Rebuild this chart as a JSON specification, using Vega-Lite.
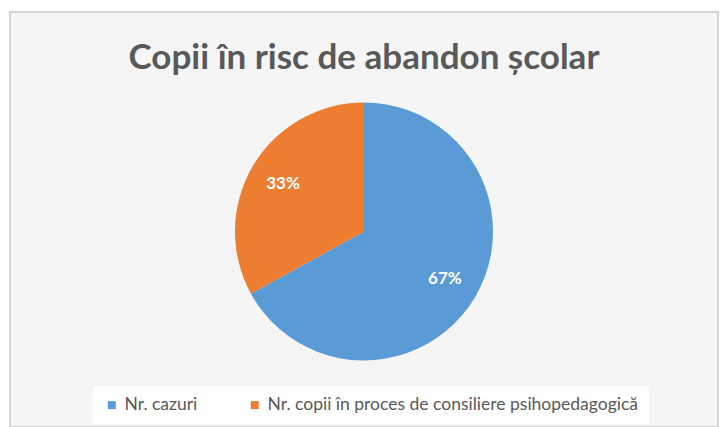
{
  "$schema": "https://vega.github.io/schema/vega-lite/v6.json",
  "autosize": {"type": "none"},
  "width": 708,
  "height": 415,
  "padding": {"left": 10, "top": 12, "right": 7, "bottom": 0},
  "background": "white",
  "view": {"stroke": "#d6d6d6", "strokeWidth": 2, "fill": "#f5f5f5"},
  "title": {
    "text": "Copii în risc de abandon școlar",
    "font": "Lato",
    "fontSize": 35,
    "fontWeight": "bold",
    "color": "#595959",
    "anchor": "middle",
    "frame": "group",
    "offset": -64
  },
  "data": {
    "values": [
      {"categorie": "Nr. cazuri", "pondere": 0.67},
      {"categorie": "Nr. copii în proces de consiliere psihopedagogică", "pondere": 0.33}
    ]
  },
  "encoding": {
    "theta": {"field": "pondere", "type": "quantitative", "stack": true},
    "order": {"field": "categorie", "type": "nominal", "sort": "ascending"}
  },
  "layer": [
    {
      "mark": {"type": "arc", "outerRadius": 129, "yOffset": 12},
      "encoding": {
        "color": {
          "field": "categorie",
          "type": "nominal",
          "scale": {
            "domain": ["Nr. cazuri", "Nr. copii în proces de consiliere psihopedagogică"],
            "range": ["#5B9BD5", "#ED7D31"]
          },
          "legend": {
            "orient": "none",
            "legendX": 83,
            "legendY": 374,
            "direction": "horizontal",
            "title": null,
            "symbolType": "square",
            "symbolSize": 64,
            "symbolStrokeWidth": 0,
            "labelFont": "Lato",
            "labelFontSize": 17.5,
            "labelColor": "#595959",
            "labelLimit": 0,
            "labelOffset": 4,
            "fillColor": "white",
            "padding": 10,
            "columnPadding": 48
          }
        }
      }
    },
    {
      "mark": {
        "type": "text",
        "radius": 94,
        "yOffset": 12,
        "font": "Lato",
        "fontSize": 17,
        "fontWeight": "bold",
        "color": "white"
      },
      "encoding": {
        "detail": {"field": "categorie", "type": "nominal"},
        "text": {"field": "pondere", "type": "quantitative", "format": ".0%"}
      }
    }
  ]
}
